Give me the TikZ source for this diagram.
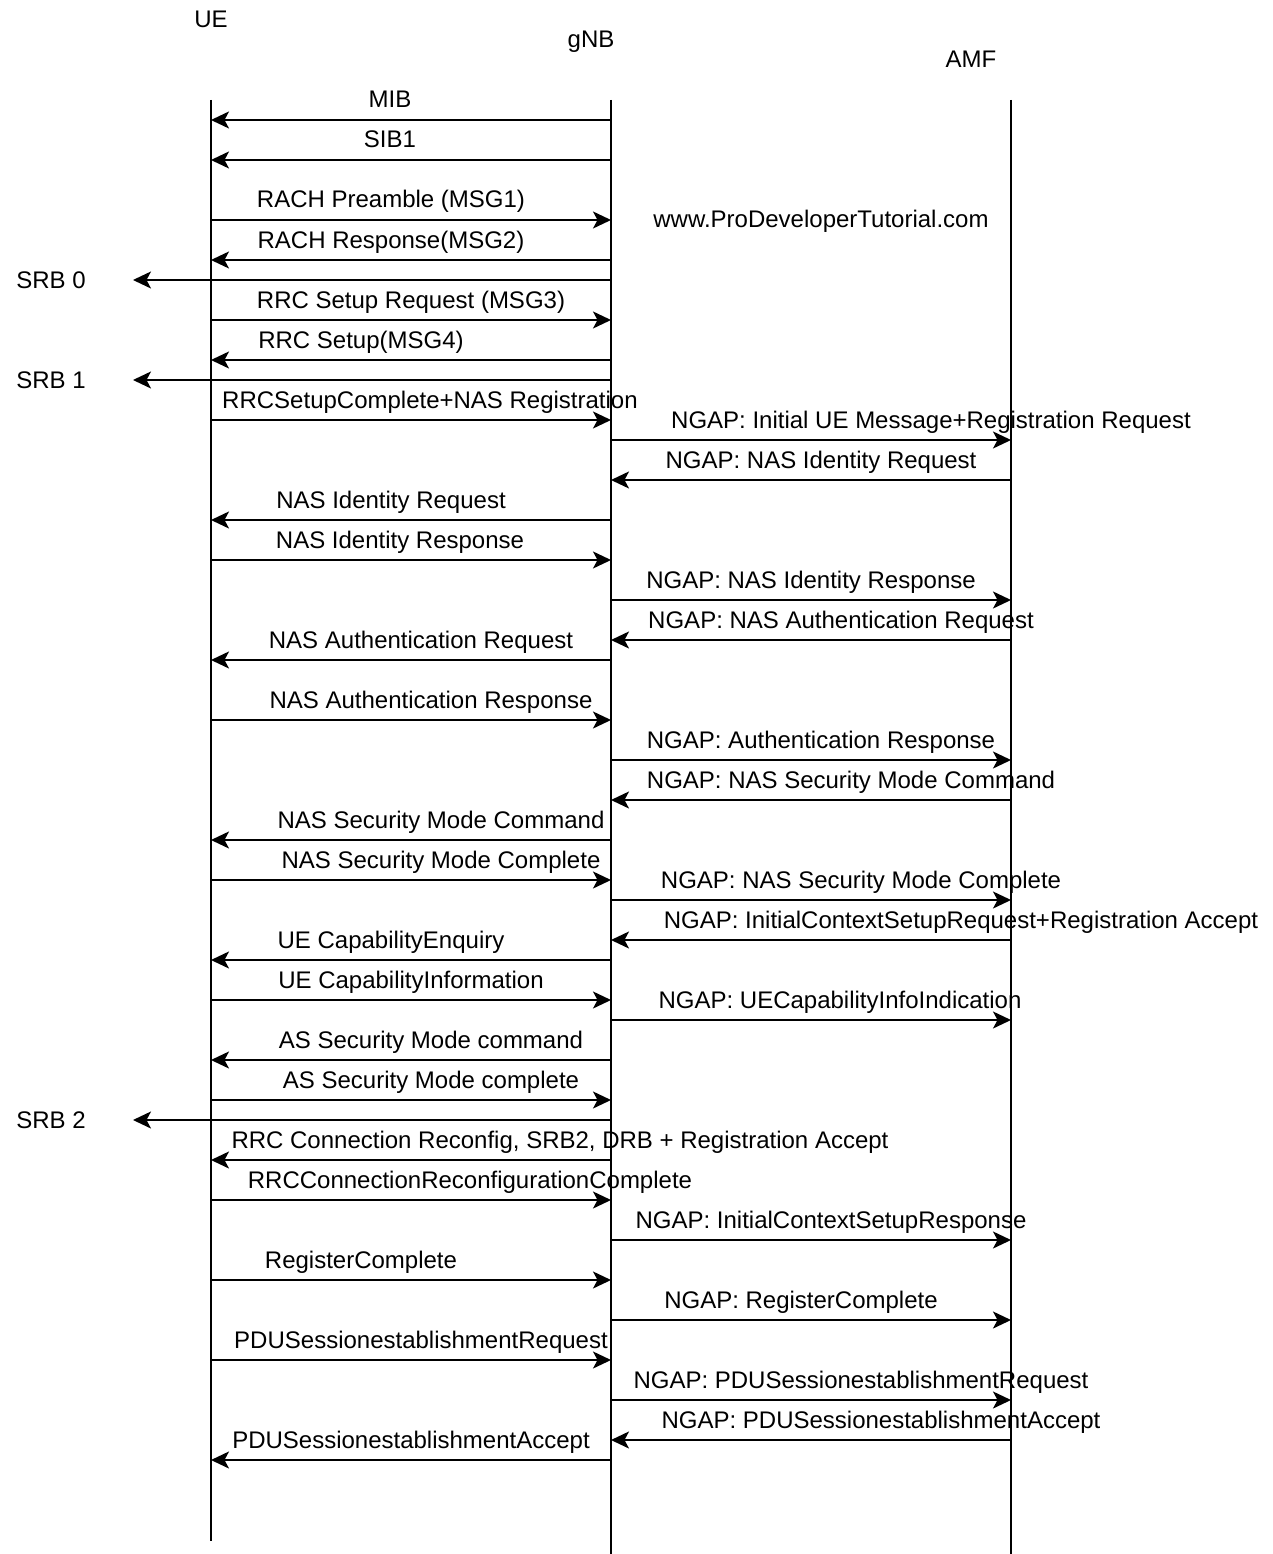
\documentclass[tikz,border=0pt]{standalone}
\usepackage{fontspec}
\setmainfont{Liberation Sans}
\usetikzlibrary{arrows.meta}
\begin{document}
\begin{tikzpicture}[x=1pt,y=-1pt]
        \tikzstyle{life}=[draw, line width=1.8pt]
        \tikzstyle{msg}=[draw, line width=1.8pt, -{Stealth[length=18pt,width=17pt,inset=4.5pt]}]
        \tikzstyle{lbl}=[font=\fontsize{24}{28}\selectfont, inner sep=0pt, anchor=base]
        \useasboundingbox (0,0) rectangle (1272,1554);

        % lifelines
        \node [lbl] (ue-name) at (211,28) {UE};
        \node [lbl] (gnb-name) at (591,48) {gNB};
        \node [lbl] (amf-name) at (971,68) {AMF};
        \coordinate (ue) at (211,100);
        \coordinate (gnb) at (611,100);
        \coordinate (amf) at (1011,100);
        \coordinate (ue-end) at (211,1541);
        \coordinate (gnb-end) at (611,1554);
        \coordinate (amf-end) at (1011,1554);
        \path[life] (ue) -- (ue-end);
        \path[life] (gnb) -- (gnb-end);
        \path[life] (amf) -- (amf-end);

        \node [lbl] (site) at (821,228) {www.ProDeveloperTutorial.com};

        % signalling radio bearers
        \node [lbl] (srb0) at (51,288) {SRB 0};
        \node [lbl] (srb1) at (51,388) {SRB 1};
        \node [lbl] (srb2) at (51,1128) {SRB 2};
        \coordinate (srb0-end) at (133,280);
        \coordinate (srb1-end) at (133,380);
        \coordinate (srb2-end) at (133,1120);
        \path[msg] (gnb |- srb0-end) -- (srb0-end);
        \path[msg] (gnb |- srb1-end) -- (srb1-end);
        \path[msg] (gnb |- srb2-end) -- (srb2-end);

        % UE <-> gNB
        \node [lbl] (mib) at (390,108) {MIB};
        \path[msg] (gnb |- 0,120) -- (ue |- 0,120);
        \node [lbl] (sib1) at (390,148) {SIB1};
        \path[msg] (gnb |- 0,160) -- (ue |- 0,160);
        \node [lbl] (msg1) at (391,208) {RACH Preamble (MSG1)};
        \path[msg] (ue |- 0,220) -- (gnb |- 0,220);
        \node [lbl] (msg2) at (391,248) {RACH Response(MSG2)};
        \path[msg] (gnb |- 0,260) -- (ue |- 0,260);
        \node [lbl] (msg3) at (411,308) {RRC Setup Request (MSG3)};
        \path[msg] (ue |- 0,320) -- (gnb |- 0,320);
        \node [lbl] (msg4) at (361,348) {RRC Setup(MSG4)};
        \path[msg] (gnb |- 0,360) -- (ue |- 0,360);
        \node [lbl] (setupc) at (430,408) {RRCSetupComplete+NAS Registration};
        \path[msg] (ue |- 0,420) -- (gnb |- 0,420);
        \node [lbl] (idreq) at (391,508) {NAS Identity Request};
        \path[msg] (gnb |- 0,520) -- (ue |- 0,520);
        \node [lbl] (idrsp) at (400,548) {NAS Identity Response};
        \path[msg] (ue |- 0,560) -- (gnb |- 0,560);
        \node [lbl] (authreq) at (421,648) {NAS Authentication Request};
        \path[msg] (gnb |- 0,660) -- (ue |- 0,660);
        \node [lbl] (authrsp) at (431,708) {NAS Authentication Response};
        \path[msg] (ue |- 0,720) -- (gnb |- 0,720);
        \node [lbl] (smcmd) at (441,828) {NAS Security Mode Command};
        \path[msg] (gnb |- 0,840) -- (ue |- 0,840);
        \node [lbl] (smcpl) at (441,868) {NAS Security Mode Complete};
        \path[msg] (ue |- 0,880) -- (gnb |- 0,880);
        \node [lbl] (capenq) at (391,948) {UE CapabilityEnquiry};
        \path[msg] (gnb |- 0,960) -- (ue |- 0,960);
        \node [lbl] (capinf) at (411,988) {UE CapabilityInformation};
        \path[msg] (ue |- 0,1000) -- (gnb |- 0,1000);
        \node [lbl] (assmcmd) at (431,1048) {AS Security Mode command};
        \path[msg] (gnb |- 0,1060) -- (ue |- 0,1060);
        \node [lbl] (assmcpl) at (431,1088) {AS Security Mode complete};
        \path[msg] (ue |- 0,1100) -- (gnb |- 0,1100);
        \node [lbl] (reconf) at (560,1148) {RRC Connection Reconfig, SRB2, DRB + Registration Accept};
        \path[msg] (gnb |- 0,1160) -- (ue |- 0,1160);
        \node [lbl] (reconfc) at (470,1188) {RRCConnectionReconfigurationComplete};
        \path[msg] (ue |- 0,1200) -- (gnb |- 0,1200);
        \node [lbl] (regc) at (361,1268) {RegisterComplete};
        \path[msg] (ue |- 0,1280) -- (gnb |- 0,1280);
        \node [lbl] (pdureq) at (421,1348) {PDUSessionestablishmentRequest};
        \path[msg] (ue |- 0,1360) -- (gnb |- 0,1360);
        \node [lbl] (pduacc) at (411,1448) {PDUSessionestablishmentAccept};
        \path[msg] (gnb |- 0,1460) -- (ue |- 0,1460);

        % gNB <-> AMF
        \node [lbl] (ngapinit) at (931,428) {NGAP: Initial UE Message+Registration Request};
        \path[msg] (gnb |- 0,440) -- (amf |- 0,440);
        \node [lbl] (ngapidreq) at (821,468) {NGAP: NAS Identity Request};
        \path[msg] (amf |- 0,480) -- (gnb |- 0,480);
        \node [lbl] (ngapidrsp) at (811,588) {NGAP: NAS Identity Response};
        \path[msg] (gnb |- 0,600) -- (amf |- 0,600);
        \node [lbl] (ngapauthreq) at (841,628) {NGAP: NAS Authentication Request};
        \path[msg] (amf |- 0,640) -- (gnb |- 0,640);
        \node [lbl] (ngapauthrsp) at (821,748) {NGAP: Authentication Response};
        \path[msg] (gnb |- 0,760) -- (amf |- 0,760);
        \node [lbl] (ngapsmcmd) at (851,788) {NGAP: NAS Security Mode Command};
        \path[msg] (amf |- 0,800) -- (gnb |- 0,800);
        \node [lbl] (ngapsmcpl) at (861,888) {NGAP: NAS Security Mode Complete};
        \path[msg] (gnb |- 0,900) -- (amf |- 0,900);
        \node [lbl] (ngapctxreq) at (961,928) {NGAP: InitialContextSetupRequest+Registration Accept};
        \path[msg] (amf |- 0,940) -- (gnb |- 0,940);
        \node [lbl] (ngapcap) at (840,1008) {NGAP: UECapabilityInfoIndication};
        \path[msg] (gnb |- 0,1020) -- (amf |- 0,1020);
        \node [lbl] (ngapctxrsp) at (831,1228) {NGAP: InitialContextSetupResponse};
        \path[msg] (gnb |- 0,1240) -- (amf |- 0,1240);
        \node [lbl] (ngapregc) at (801,1308) {NGAP: RegisterComplete};
        \path[msg] (gnb |- 0,1320) -- (amf |- 0,1320);
        \node [lbl] (ngappdureq) at (861,1388) {NGAP: PDUSessionestablishmentRequest};
        \path[msg] (gnb |- 0,1400) -- (amf |- 0,1400);
        \node [lbl] (ngappduacc) at (881,1428) {NGAP: PDUSessionestablishmentAccept};
        \path[msg] (amf |- 0,1440) -- (gnb |- 0,1440);
\end{tikzpicture}
\end{document}
